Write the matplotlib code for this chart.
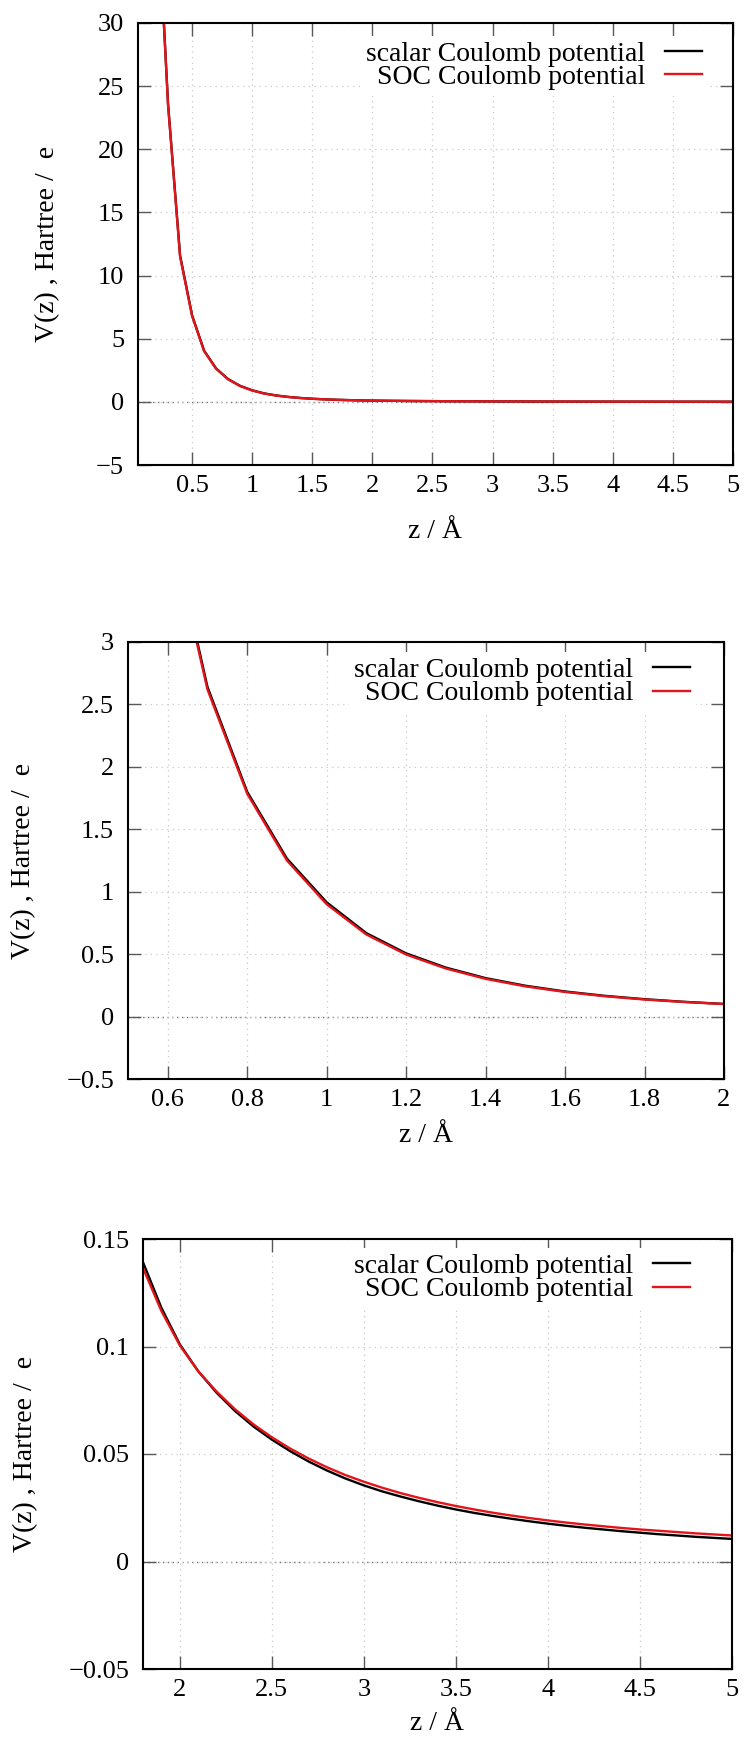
import matplotlib
matplotlib.use("Agg")
import matplotlib.pyplot as plt
from matplotlib.ticker import FixedLocator, FuncFormatter

plt.rcParams["font.family"] = ["Liberation Serif", "DejaVu Serif"]

# potential profile along z (Angstrom), Hartree/e
Z = [0.2, 0.3, 0.4, 0.5, 0.6, 0.7, 0.8, 0.9, 1.0, 1.1,
     1.2, 1.3, 1.4, 1.5, 1.6, 1.7, 1.8, 1.9, 2.0, 2.1,
     2.2, 2.3, 2.4, 2.5, 2.6, 2.7, 2.8, 2.9, 3.0, 3.1,
     3.2, 3.3, 3.4, 3.5, 3.6, 3.7, 3.8, 3.9, 4.0, 4.1,
     4.2, 4.3, 4.4, 4.5, 4.6, 4.7, 4.8, 4.9, 5.0]
V_SCALAR = [42.0, 23.6, 11.6, 6.85, 4.05, 2.64, 1.80, 1.265, 0.915, 0.668,
            0.506, 0.392, 0.308, 0.247, 0.201, 0.166, 0.1392, 0.1180, 0.1010, 0.0885,
            0.0785, 0.0700, 0.0628, 0.0567, 0.0513, 0.0465, 0.0423, 0.0386, 0.0354, 0.0326,
            0.0302, 0.0280, 0.0260, 0.0242, 0.0226, 0.0212, 0.0199, 0.0187, 0.0176, 0.0166,
            0.0157, 0.0149, 0.0141, 0.0134, 0.0127, 0.0121, 0.0115, 0.0110, 0.0105]
V_SOC = [42.0, 23.5, 11.5, 6.80, 4.02, 2.62, 1.785, 1.250, 0.900, 0.657,
         0.497, 0.385, 0.302, 0.242, 0.197, 0.163, 0.1365, 0.1165, 0.1005, 0.0885,
         0.0790, 0.0708, 0.0638, 0.0578, 0.0525, 0.0479, 0.0438, 0.0402, 0.0371, 0.0343,
         0.0318, 0.0296, 0.0276, 0.0258, 0.0242, 0.0227, 0.0214, 0.0202, 0.0191, 0.0181,
         0.0172, 0.0164, 0.0156, 0.0149, 0.0143, 0.0137, 0.0131, 0.0126, 0.0121]

LABEL_SCALAR = "scalar Coulomb potential"
LABEL_SOC = "SOC Coulomb potential"
XLABEL = "z / Å"
YLABEL = "V(z) , Hartree /  e"

# three zoom levels of the same data
XLIMS = [(0.05, 5.0), (0.5, 2.0), (1.8, 5.0)]
YLIMS = [(-5, 30), (-0.5, 3), (-0.05, 0.15)]
XTICKS = [[0.5, 1, 1.5, 2, 2.5, 3, 3.5, 4, 4.5, 5],
          [0.6, 0.8, 1, 1.2, 1.4, 1.6, 1.8, 2],
          [2, 2.5, 3, 3.5, 4, 4.5, 5]]
YTICKS = [[-5, 0, 5, 10, 15, 20, 25, 30],
          [-0.5, 0, 0.5, 1, 1.5, 2, 2.5, 3],
          [-0.05, 0, 0.05, 0.1, 0.15]]

# layout in output pixels: (left, top, right, bottom) of each plot frame
W, H = 749, 1754
FRAMES = [(138, 23, 733, 465), (128, 642, 724, 1079), (143, 1239, 732, 1669)]
XLABEL_Y = [532, 1135, 1724]
YLABEL_X = [48, 24, 26]
KEY_ANCHOR = [(708, 36), (696, 652), (696, 1248)]   # upper right corner of key

FS_TICK = 19
FS_TEXT = 20
BLACK = "#000000"
RED = "#e3141a"


def fmt(v, _pos=None):
    return ("%g" % v).replace("-", "\u2212")


def panel(fig, k):
    l, t, r, b = FRAMES[k]
    ax = fig.add_axes([l / W, 1 - b / H, (r - l) / W, (b - t) / H])
    pw, ph = r - l, b - t

    ax.plot(Z, V_SCALAR, color=BLACK, lw=1.7, label=LABEL_SCALAR, zorder=3)
    ax.plot(Z, V_SOC, color=RED, lw=1.7, label=LABEL_SOC, zorder=4)

    ax.set_xlim(*XLIMS[k])
    ax.set_ylim(*YLIMS[k])
    ax.xaxis.set_major_locator(FixedLocator(XTICKS[k]))
    ax.yaxis.set_major_locator(FixedLocator(YTICKS[k]))
    ax.xaxis.set_major_formatter(FuncFormatter(fmt))
    ax.yaxis.set_major_formatter(FuncFormatter(fmt))

    ax.grid(True, color="0.82", ls=(0, (1.2, 3.2)), lw=0.9, zorder=0)
    ax.axhline(0, color="0.45", ls=(0, (1.0, 2.5)), lw=1.0, zorder=1)

    ax.tick_params(direction="in", length=9.5, width=1.0, color="0.35",
                   top=True, right=True, labelsize=FS_TICK)
    ax.tick_params(axis="x", pad=7)
    ax.tick_params(axis="y", pad=10)
    for s in ax.spines.values():
        s.set_linewidth(1.5)
        s.set_zorder(6)

    ax.set_xlabel(XLABEL, fontsize=FS_TEXT)
    ax.xaxis.set_label_coords(0.5, -(XLABEL_Y[k] - b) / ph)
    ax.xaxis.label.set_va("center")
    ax.set_ylabel(YLABEL, fontsize=FS_TEXT)
    ax.yaxis.set_label_coords(-(l - YLABEL_X[k]) / pw, 0.5)
    ax.yaxis.label.set_va("center")

    kx, ky = KEY_ANCHOR[k]
    leg = ax.legend(loc="upper right",
                    bbox_to_anchor=((kx - l) / pw, 1 - (ky - t) / ph),
                    borderaxespad=0, borderpad=0.2, markerfirst=False,
                    handlelength=1.35, handletextpad=0.7, labelspacing=-0.08,
                    fontsize=FS_TEXT, frameon=True, fancybox=False, framealpha=1)
    leg.get_frame().set_edgecolor("none")
    leg.get_frame().set_facecolor("white")
    leg.set_zorder(5)
    return ax


def main():
    fig = plt.figure(figsize=(W / 100, H / 100), dpi=100)
    for k in range(3):
        panel(fig, k)
    fig.savefig("out.png", dpi=100)


if __name__ == "__main__":
    main()
